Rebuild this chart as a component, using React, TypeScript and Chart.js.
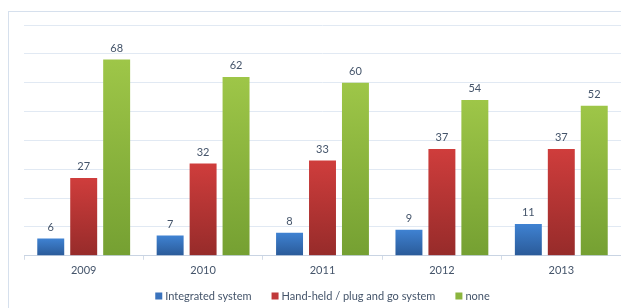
import React, { useEffect, useRef } from "react";
import { Chart, registerables } from "chart.js";

Chart.register(...registerables);

const categories = ["2009", "2010", "2011", "2012", "2013"];
const integrated = [6, 7, 8, 9, 11];
const handHeld = [27, 32, 33, 37, 37];
const none = [68, 62, 60, 54, 52];
const seriesNames = ["Integrated system", "Hand-held / plug and go system", "none"];
const legendColors = ["#3a73bd", "#c0393a", "#8bb53e"];

const TEXT = "#44546a";
const FONT = "Lato, 'Liberation Sans', sans-serif";

function barGradient(top: string, bottom: string) {
  return (ctx: any) => {
    const chart = ctx.chart;
    const y = chart.scales && chart.scales.y;
    if (!y || ctx.parsed == null || ctx.type !== "data") return top;
    const yTop = y.getPixelForValue(ctx.parsed.y);
    const yBot = y.getPixelForValue(0);
    if (!isFinite(yTop) || !isFinite(yBot) || yTop === yBot) return top;
    const g = chart.ctx.createLinearGradient(0, yTop, 0, yBot);
    g.addColorStop(0, top);
    g.addColorStop(1, bottom);
    return g;
  };
}

const valueLabels = {
  id: "valueLabels",
  afterDatasetsDraw(chart: any) {
    const ctx = chart.ctx;
    ctx.save();
    ctx.font = `11px ${FONT}`;
    ctx.fillStyle = TEXT;
    ctx.textAlign = "center";
    ctx.textBaseline = "bottom";
    chart.data.datasets.forEach((ds: any, i: number) => {
      const meta = chart.getDatasetMeta(i);
      meta.data.forEach((el: any, j: number) => {
        ctx.fillText(String(ds.data[j]), el.x, el.y - 6);
      });
    });
    ctx.restore();
  },
};

const customLegend = {
  id: "customLegend",
  afterDraw(chart: any) {
    const ctx = chart.ctx;
    const area = chart.chartArea;
    ctx.save();
    ctx.font = `11px ${FONT}`;
    ctx.textBaseline = "middle";
    ctx.textAlign = "left";
    const box = 7;
    const gapBox = 3;
    const gapItem = 20;
    const widths = seriesNames.map((n) => box + gapBox + ctx.measureText(n).width);
    const total = widths.reduce((a, b) => a + b, 0) + gapItem * (seriesNames.length - 1);
    let x = (area.left + area.right) / 2 - total / 2;
    const cy = 296;
    seriesNames.forEach((n, i) => {
      ctx.fillStyle = legendColors[i];
      ctx.fillRect(x, cy - box / 2, box, box);
      ctx.fillStyle = TEXT;
      ctx.fillText(n, x + box + gapBox, cy);
      x += widths[i] + gapItem;
    });
    ctx.restore();
  },
};

export default function App() {
  const ref = useRef<HTMLCanvasElement>(null);
  useEffect(() => {
    if (!ref.current) return;
    const chart = new Chart(ref.current, {
      type: "bar",
      data: {
        labels: categories,
        datasets: [
          { label: seriesNames[0], data: integrated, backgroundColor: barGradient("#3f82d2", "#2a5a98") },
          { label: seriesNames[1], data: handHeld, backgroundColor: barGradient("#cf3d3c", "#962b2a") },
          { label: seriesNames[2], data: none, backgroundColor: barGradient("#9ec648", "#75a032") },
        ],
      },
      options: {
        responsive: false,
        animation: false,
        datasets: { bar: { categoryPercentage: 0.828, barPercentage: 0.818 } },
        layout: { padding: { left: 24, right: 0, top: 25, bottom: 27 } },
        plugins: {
          tooltip: { enabled: false },
          legend: { display: false },
        },
        scales: {
          x: {
            grid: { offset: true, drawOnChartArea: false, tickLength: 4, color: "#d3dce8" },
            border: { color: "#c9d4e3" },
            ticks: { color: TEXT, font: { family: FONT, size: 11 }, padding: 4 },
          },
          y: {
            min: 0,
            max: 80,
            ticks: { display: false, stepSize: 10 },
            grid: { color: "#e1e9f3", drawTicks: false },
            border: { display: false },
          },
        },
      },
      plugins: [valueLabels, customLegend],
    });
    return () => chart.destroy();
  }, []);
  return (
    <div style={{ position: "absolute", left: 0, top: 0, width: 621, height: 308, background: "#fff" }}>
      <div
        style={{
          position: "absolute",
          left: 8,
          top: 11,
          width: 640,
          height: 320,
          borderLeft: "1px solid #d6e0ed",
          borderTop: "1px solid #d6e0ed",
        }}
      />
      <canvas ref={ref} width={621} height={308} style={{ position: "absolute", left: 0, top: 0 }} />
    </div>
  );
}
